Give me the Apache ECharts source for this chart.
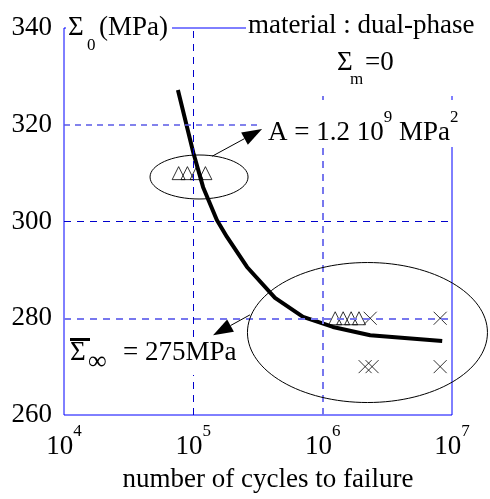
<!DOCTYPE html>
<html>
<head>
<meta charset="utf-8">
<script src="https://cdn.jsdelivr.net/npm/echarts@6/dist/echarts.min.js"></script>
<style>
  html, body { margin: 0; padding: 0; background: #fff; }
  #chart { width: 490px; height: 499px; }
</style>
</head>
<body>
<div id="chart"></div>
<script>
// fitted curve Sigma0 vs N
var curveCycles = [7.6e4, 1.0e5, 1.19e5, 1.52e5, 1.82e5, 2.6e5, 4.28e5, 7.05e5, 1.2e6, 2.33e6, 8.4e6];
var curveStress = [327.2, 314.2, 307.1, 300.3, 296.8, 290.6, 284.2, 280.3, 278.2, 276.5, 275.3];
// test points (triangles)
var triCycles = [7.7e4, 9.0e4, 1.06e5, 1.24e5, 1.25e6, 1.44e6, 1.66e6, 1.91e6];
var triStress = [310, 310, 310, 310, 280, 280, 280, 280];
// test points (crosses)
var crossCycles = [2.33e6, 8.1e6, 2.13e6, 2.41e6, 8.1e6];
var crossStress = [280, 280, 270, 270, 270];
// dashed grid lines
var gridCycles = [1e5, 1e6];
var gridStress = [320, 300, 280];

var SERIF = 'Liberation Serif';
var BLUE = '#0000ff';

function zip(a, b) {
  return a.map(function (v, i) { return [v, b[i]]; });
}

var chartDom = document.getElementById('chart');
var myChart = echarts.init(chartDom);

var gridLineStyles = {
  x: [
    { color: '#0000cc', type: [7, 6], width: 1 },
    { color: '#7777ee', type: [7, 6], width: 2 }
  ],
  y: [
    { color: '#5a5ae6', type: [6, 5], width: 1.5 },
    { color: '#0000cc', type: [7, 6], width: 1 },
    { color: '#7777ee', type: [7, 6], width: 2 }
  ]
};
var markData = [];
gridCycles.forEach(function (v, i) {
  markData.push({ xAxis: v, lineStyle: gridLineStyles.x[i] });
});
gridStress.forEach(function (v, i) {
  markData.push({ yAxis: v, lineStyle: gridLineStyles.y[i] });
});

var supRich = {
  b: { fontFamily: SERIF, fontSize: 27, color: '#000', lineHeight: 37, verticalAlign: 'bottom' },
  s: { fontFamily: SERIF, fontSize: 17, color: '#000', lineHeight: 17, verticalAlign: 'top' }
};

var option = {
  animation: false,
  backgroundColor: '#fff',
  textStyle: { fontFamily: SERIF },
  grid: {
    left: 64, right: 38, top: 28, bottom: 84,
    show: true, borderColor: BLUE, borderWidth: 1
  },
  xAxis: {
    type: 'log',
    logBase: 10,
    min: 1e4,
    max: 1e7,
    axisLine: { show: false },
    axisTick: { show: false },
    splitLine: { show: false },
    axisLabel: {
      margin: 8,
      fontFamily: SERIF,
      formatter: function (v) {
        return '{b|10}{s|' + Math.round(Math.log10(v)) + '}';
      },
      rich: supRich
    },
    name: 'number of cycles to failure',
    nameLocation: 'middle',
    nameGap: 51,
    nameTextStyle: { fontFamily: SERIF, fontSize: 27, color: '#000', padding: [0, 0, 0, 20] }
  },
  yAxis: {
    type: 'value',
    min: 260,
    max: 340,
    interval: 20,
    axisLine: { show: false },
    axisTick: { show: false },
    splitLine: { show: false },
    axisLabel: {
      margin: 12,
      fontFamily: SERIF,
      fontSize: 27,
      color: '#000',
      padding: [0, 0, 10, 0]
    }
  },
  series: [
    {
      name: 'grid',
      type: 'line',
      data: [],
      z: 1,
      silent: true,
      markLine: {
        silent: true,
        symbol: 'none',
        label: { show: false },
        data: markData
      }
    },
    {
      name: 'curve',
      type: 'line',
      data: zip(curveCycles, curveStress),
      showSymbol: false,
      symbol: 'none',
      z: 3,
      lineStyle: { color: '#000', width: 4 }
    },
    {
      name: 'triangles',
      type: 'scatter',
      data: zip(triCycles, triStress),
      symbol: 'triangle',
      symbolSize: [13, 13],
      z: 4,
      itemStyle: { color: 'rgba(0,0,0,0)', borderColor: '#000', borderWidth: 1 }
    },
    {
      name: 'crosses',
      type: 'scatter',
      data: zip(crossCycles, crossStress),
      symbol: 'path://M0,0L10,10M10,0L0,10',
      symbolSize: 13,
      z: 4,
      itemStyle: { color: 'rgba(0,0,0,0)', borderColor: '#000', borderWidth: 1 }
    }
  ]
};
myChart.setOption(option);

// annotations
function px(x, y) {
  return myChart.convertToPixel({ xAxisIndex: 0, yAxisIndex: 0 }, [x, y]);
}
function txt(x, y, s, size) {
  return {
    type: 'text', x: x, y: y, z: 20,
    style: { text: s, fontFamily: SERIF, fontSize: size, fill: '#000', align: 'left', verticalAlign: 'middle' }
  };
}
function box(x, y, w, h) {
  return { type: 'rect', z: 10, shape: { x: x, y: y, width: w, height: h }, style: { fill: '#fff' } };
}
function arrow(from, to) {
  var dx = to[0] - from[0], dy = to[1] - from[1];
  var len = Math.sqrt(dx * dx + dy * dy);
  var ux = dx / len, uy = dy / len;
  var hl = 20, hw = 7;
  var bx = to[0] - ux * hl, by = to[1] - uy * hl;
  return [
    { type: 'line', z: 30, shape: { x1: from[0], y1: from[1], x2: bx, y2: by }, style: { stroke: '#000', lineWidth: 1 } },
    { type: 'polygon', z: 30, shape: { points: [to, [bx - uy * hw, by + ux * hw], [bx + uy * hw, by - ux * hw]] }, style: { fill: '#000' } }
  ];
}

var e1 = px(1.107e5, 309.2);
var e2 = px(2.22e6, 277.05);
var g = [
  box(66, 8, 106, 48),
  box(246, 0, 244, 96),
  box(262, 100, 228, 47),
  box(66, 338, 179, 37),
  // Sigma_0 (MPa)
  txt(68, 28, 'Σ', 27), txt(87, 46, '0', 17), txt(99, 28, '(MPa)', 27),
  // material
  txt(248, 26, 'material : dual-phase', 27),
  txt(337, 63, 'Σ', 27), txt(350, 80, 'm', 17), txt(365, 63, '=0', 27),
  // A = 1.2 10^9 MPa^2
  {
    type: 'text', x: 268, y: 128, z: 20,
    style: { text: '{b|A = 1.2 10}{s|9}{b| MPa}{s|2}', rich: supRich, align: 'left', verticalAlign: 'middle' }
  },
  // Sigma_inf
  { type: 'rect', z: 20, shape: { x: 70, y: 338, width: 20, height: 3 }, style: { fill: '#000' } },
  txt(70, 353, 'Σ', 27), txt(88, 362, '∞', 26), txt(123, 353, '= 275MPa', 27),
  { type: 'ellipse', z: 30, shape: { cx: e1[0], cy: e1[1], rx: 49, ry: 22 }, style: { fill: 'none', stroke: '#000', lineWidth: 1 } },
  { type: 'ellipse', z: 30, shape: { cx: e2[0], cy: e2[1], rx: 120, ry: 70 }, style: { fill: 'none', stroke: '#000', lineWidth: 1 } }
];
g = g.concat(arrow(px(1.40e5, 313.5), px(3.40e5, 319.1)));
g = g.concat(arrow(px(2.74e5, 280.7), px(1.42e5, 276.5)));

myChart.setOption({ graphic: g });
</script>
</body>
</html>
